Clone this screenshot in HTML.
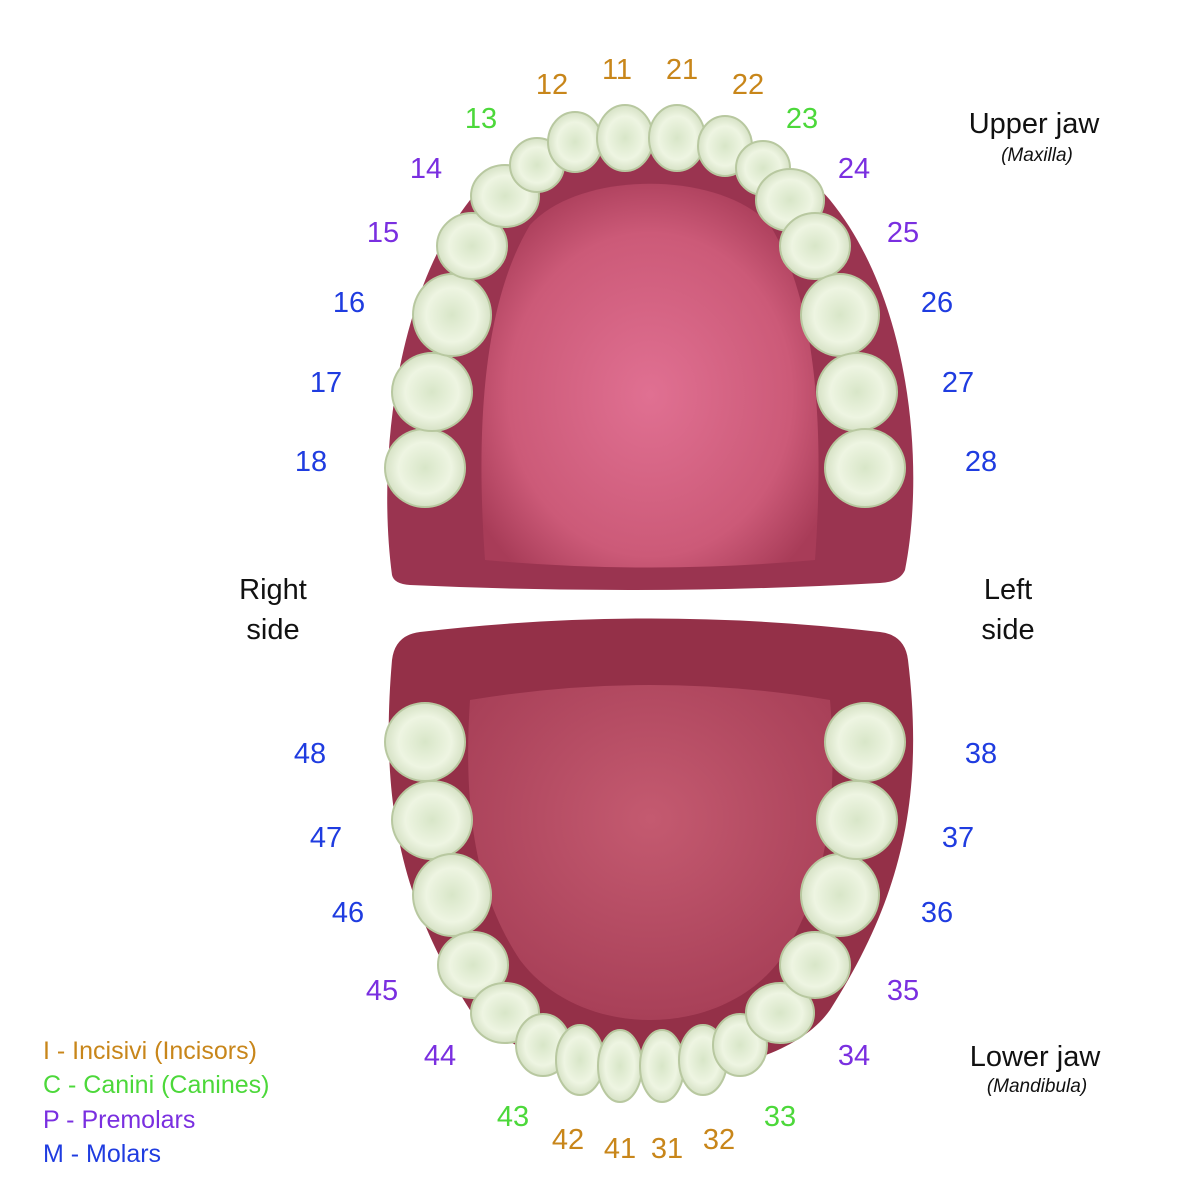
<!DOCTYPE html>
<html><head><meta charset="utf-8"><style>
html,body{margin:0;padding:0;background:#fff;}
svg{display:block;}
text{font-family:"Liberation Sans",sans-serif;}
</style></head><body>
<svg width="1200" height="1200" viewBox="0 0 1200 1200" xmlns="http://www.w3.org/2000/svg">
<defs>
<radialGradient id="pal" cx="0.5" cy="0.55" r="0.6">
<stop offset="0" stop-color="#e07092"/><stop offset="0.7" stop-color="#cc5a78"/><stop offset="1" stop-color="#a83c58"/>
</radialGradient>
<radialGradient id="tg" cx="0.5" cy="0.4" r="0.6">
<stop offset="0" stop-color="#c45a70"/><stop offset="1" stop-color="#a84058"/>
</radialGradient>
<radialGradient id="tooth" cx="0.5" cy="0.5" r="0.55">
<stop offset="0" stop-color="#d8e6c8"/><stop offset="0.6" stop-color="#eef5e2"/><stop offset="1" stop-color="#cfdcbd"/>
</radialGradient>
</defs>
<!-- upper jaw -->
<path d="M392,575 C378,470 392,300 470,200 C540,115 760,115 830,200 C912,300 925,470 905,570 Q900,582 880,583 Q650,596 410,585 Q394,584 392,575 Z" fill="#9a3450"/>
<path d="M485,560 C475,420 485,300 530,225 C580,170 720,170 770,225 C815,300 825,420 815,560 Q650,575 485,560 Z" fill="url(#pal)"/>
<!-- lower jaw -->
<path d="M392,660 Q395,635 420,632 Q650,605 880,632 Q905,635 908,660 C925,800 900,900 830,1010 C770,1095 540,1095 470,1010 C400,900 380,800 392,660 Z" fill="#943048"/>
<path d="M470,700 Q650,670 830,700 C840,820 820,900 780,960 C720,1040 580,1040 520,960 C480,900 462,820 470,700 Z" fill="url(#tg)"/>
<g fill="url(#tooth)" stroke="#b8c8a0" stroke-width="2">
<!-- upper -->
<ellipse cx="425" cy="468" rx="40" ry="39"/>
<ellipse cx="432" cy="392" rx="40" ry="39"/>
<ellipse cx="452" cy="315" rx="39" ry="41"/>
<ellipse cx="472" cy="246" rx="35" ry="33"/>
<ellipse cx="505" cy="196" rx="34" ry="31"/>
<ellipse cx="537" cy="165" rx="27" ry="27"/>
<ellipse cx="575" cy="142" rx="27" ry="30"/>
<ellipse cx="625" cy="138" rx="28" ry="33"/>
<ellipse cx="677" cy="138" rx="28" ry="33"/>
<ellipse cx="725" cy="146" rx="27" ry="30"/>
<ellipse cx="763" cy="168" rx="27" ry="27"/>
<ellipse cx="790" cy="200" rx="34" ry="31"/>
<ellipse cx="815" cy="246" rx="35" ry="33"/>
<ellipse cx="840" cy="315" rx="39" ry="41"/>
<ellipse cx="857" cy="392" rx="40" ry="39"/>
<ellipse cx="865" cy="468" rx="40" ry="39"/>
<!-- lower -->
<ellipse cx="425" cy="742" rx="40" ry="39"/>
<ellipse cx="432" cy="820" rx="40" ry="39"/>
<ellipse cx="452" cy="895" rx="39" ry="41"/>
<ellipse cx="473" cy="965" rx="35" ry="33"/>
<ellipse cx="505" cy="1013" rx="34" ry="30"/>
<ellipse cx="543" cy="1045" rx="27" ry="31"/>
<ellipse cx="580" cy="1060" rx="24" ry="35"/>
<ellipse cx="620" cy="1066" rx="22" ry="36"/>
<ellipse cx="662" cy="1066" rx="22" ry="36"/>
<ellipse cx="703" cy="1060" rx="24" ry="35"/>
<ellipse cx="740" cy="1045" rx="27" ry="31"/>
<ellipse cx="780" cy="1013" rx="34" ry="30"/>
<ellipse cx="815" cy="965" rx="35" ry="33"/>
<ellipse cx="840" cy="895" rx="39" ry="41"/>
<ellipse cx="857" cy="820" rx="40" ry="39"/>
<ellipse cx="865" cy="742" rx="40" ry="39"/>
</g>
<g font-size="29" text-anchor="middle">
<g fill="#c8861a">
<text x="552" y="94">12</text><text x="617" y="79">11</text><text x="682" y="79">21</text><text x="748" y="94">22</text>
<text x="568" y="1149">42</text><text x="620" y="1158">41</text><text x="667" y="1158">31</text><text x="719" y="1149">32</text>
</g>
<g fill="#4cd83a">
<text x="481" y="128">13</text><text x="802" y="128">23</text>
<text x="513" y="1126">43</text><text x="780" y="1126">33</text>
</g>
<g fill="#7a2fe0">
<text x="426" y="178">14</text><text x="854" y="178">24</text>
<text x="383" y="242">15</text><text x="903" y="242">25</text>
<text x="382" y="1000">45</text><text x="903" y="1000">35</text>
<text x="440" y="1065">44</text><text x="854" y="1065">34</text>
</g>
<g fill="#1f3ce0">
<text x="349" y="312">16</text><text x="937" y="312">26</text>
<text x="326" y="392">17</text><text x="958" y="392">27</text>
<text x="311" y="471">18</text><text x="981" y="471">28</text>
<text x="310" y="763">48</text><text x="981" y="763">38</text>
<text x="326" y="847">47</text><text x="958" y="847">37</text>
<text x="348" y="922">46</text><text x="937" y="922">36</text>
</g>
<g fill="#111">
<text x="273" y="599">Right</text><text x="273" y="639">side</text>
<text x="1008" y="599">Left</text><text x="1008" y="639">side</text>
<text x="1034" y="133">Upper jaw</text>
<text x="1035" y="1066">Lower jaw</text>
</g>
<text x="1037" y="161" font-size="19" font-style="italic" fill="#111">(Maxilla)</text>
<text x="1037" y="1092" font-size="19" font-style="italic" fill="#111">(Mandibula)</text>
</g>
<g font-size="25">
<text x="43" y="1059" fill="#c8861a">I - Incisivi (Incisors)</text>
<text x="43" y="1093" fill="#4cd83a">C - Canini (Canines)</text>
<text x="43" y="1128" fill="#7a2fe0">P -  Premolars</text>
<text x="43" y="1162" fill="#1f3ce0">M -  Molars</text>
</g>
</svg>
</body></html>
